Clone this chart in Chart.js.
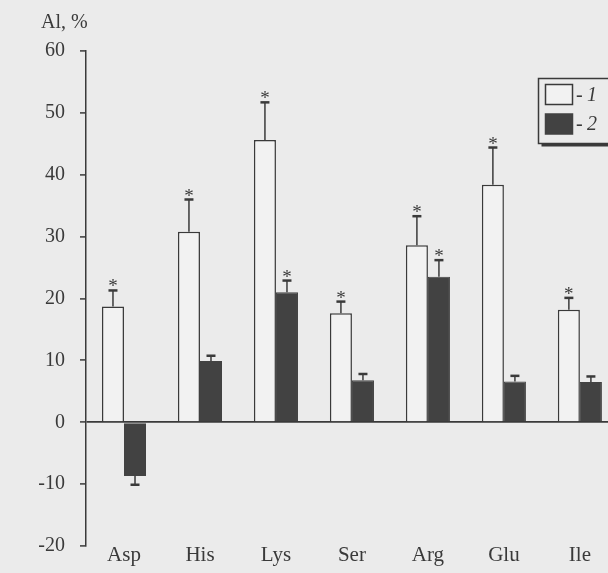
<!DOCTYPE html>
<html>
<head>
<meta charset="utf-8">
<script src="https://cdn.jsdelivr.net/npm/chart.js@4.4.0/dist/chart.umd.min.js"></script>
<style>
  html, body { margin: 0; padding: 0; background: #ebebeb; }
  #wrap { width: 608px; height: 573px; position: relative; }
</style>
</head>
<body>
<div id="wrap"><canvas id="aiChart"></canvas></div>
<script>
// ---------- data ----------
const categories = ["Asp", "His", "Lys", "Ser", "Arg", "Glu", "Ile"];
const seriesLabels = ["1", "2"];
const values1 = [18.7, 30.8, 45.6, 17.6, 28.6, 38.4, 18.2];
const errors1 = [2.6, 5.2, 6.1, 1.9, 4.7, 6.0, 1.9];
const stars1 = [true, true, true, true, true, true, true];
const values2 = [-8.7, 9.9, 21.0, 6.8, 23.5, 6.6, 6.5];
const errors2 = [1.4, 0.85, 1.9, 1.0, 2.7, 0.9, 0.9];
const stars2 = [false, false, true, false, true, false, false];
const yTicks = [-20, -10, 0, 10, 20, 30, 40, 50, 60];
const yTitle = "Al, %";

const INK = "#3a3a3a";
const FONT = "Liberation Serif";

/* error bars + asterisks */
const errorBars = {
  id: "errorBars",
  afterDatasetsDraw(chart) {
    const ctx = chart.ctx;
    const yScale = chart.scales.y;
    const extra = [[errors1, stars1], [errors2, stars2]];
    chart.data.datasets.forEach((ds, di) => {
      const meta = chart.getDatasetMeta(di);
      meta.data.forEach((bar, i) => {
        const v = ds.data[i].y;
        const e = extra[di][0][i];
        const end = v < 0 ? v - e : v + e;
        const py = yScale.getPixelForValue(end);
        ctx.save();
        ctx.strokeStyle = INK;
        ctx.lineWidth = 1.5;
        ctx.beginPath();
        ctx.moveTo(bar.x, bar.y);
        ctx.lineTo(bar.x, py);
        ctx.stroke();
        ctx.lineWidth = 2.5;
        ctx.beginPath();
        ctx.moveTo(bar.x - 4.5, py);
        ctx.lineTo(bar.x + 4.5, py);
        ctx.stroke();
        if (extra[di][1][i]) {
          ctx.fillStyle = INK;
          ctx.font = `19px "${FONT}"`;
          ctx.textAlign = "center";
          ctx.textBaseline = "alphabetic";
          ctx.fillText("*", bar.x, py + 2);
        }
        ctx.restore();
      });
    });
  },
};

/* axis title top-left */
const axisTitle = {
  id: "axisTitle",
  afterDraw(chart) {
    const ctx = chart.ctx;
    ctx.save();
    ctx.fillStyle = INK;
    ctx.font = `20px "${FONT}"`;
    ctx.textAlign = "left";
    ctx.textBaseline = "alphabetic";
    ctx.fillText(yTitle, 41, 28);
    ctx.restore();
  },
};

/* boxed legend, right edge cut off like the scan */
const legendBox = {
  id: "legendBox",
  afterDraw(chart) {
    const ctx = chart.ctx;
    const x0 = 538.5, y0 = 78.5, w = 80, h = 65;
    ctx.save();
    ctx.fillStyle = INK;
    ctx.fillRect(x0 + 3, y0 + h, w, 3);
    ctx.fillStyle = "#ebebeb";
    ctx.fillRect(x0, y0, w, h);
    ctx.strokeStyle = INK;
    ctx.lineWidth = 1.5;
    ctx.strokeRect(x0, y0, w, h);
    chart.data.datasets.forEach((ds, i) => {
      const sy = 84.5 + i * 29.5;
      ctx.fillStyle = ds.backgroundColor;
      ctx.fillRect(545.5, sy, 27, 20);
      ctx.strokeStyle = ds.borderColor;
      ctx.lineWidth = 1.5;
      ctx.strokeRect(545.5, sy, 27, 20);
      ctx.fillStyle = INK;
      ctx.textBaseline = "middle";
      ctx.textAlign = "left";
      ctx.font = `20px "${FONT}"`;
      ctx.fillText("-", 576, sy + 11);
      ctx.font = `italic 20px "${FONT}"`;
      ctx.fillText(ds.label, 587, sy + 11);
    });
    ctx.restore();
  },
};

const ctx = document.getElementById("aiChart").getContext("2d");
new Chart(ctx, {
  type: "bar",
  data: {
    datasets: [
      {
        label: seriesLabels[0],
        data: values1.map((v, i) => ({ x: i, y: v })),
        backgroundColor: "#f2f2f2",
        borderColor: INK,
        borderWidth: 1.5,
      },
      {
        label: seriesLabels[1],
        data: values2.map((v, i) => ({ x: i, y: v })),
        backgroundColor: "#424242",
        borderColor: "#424242",
        borderWidth: 1,
      },
    ],
  },
  options: {
    responsive: true,
    maintainAspectRatio: false,
    animation: false,
    categoryPercentage: 0.58,
    barPercentage: 1,
    layout: { padding: { top: 51, left: 0, right: 0, bottom: 0 } },
    plugins: { legend: { display: false }, tooltip: { enabled: false } },
    scales: {
      x: {
        type: "linear",
        offset: false,
        min: -0.5,
        max: 6.37,
        afterBuildTicks: s => { s.ticks = categories.map((_, i) => ({ value: i })); },
        afterFit: s => { s.height = 21; },
        grid: { display: false, drawTicks: false },
        border: { display: false },
        ticks: {
          callback: v => categories[v],
          color: INK,
          font: { family: FONT, size: 21, lineHeight: 1 },
          padding: -1,
          maxRotation: 0,
          autoSkip: false,
        },
      },
      y: {
        min: -20,
        max: 60,
        afterBuildTicks: s => { s.ticks = yTicks.map(v => ({ value: v })); },
        afterFit: s => { s.width = 86; },
        border: { display: true, color: INK, width: 1.5 },
        grid: {
          color: c => (c.tick && c.tick.value === 0 ? INK : "rgba(0,0,0,0)"),
          lineWidth: 1.8,
          tickColor: INK,
          tickLength: 6,
          tickWidth: 1.5,
        },
        ticks: { color: INK, font: { family: FONT, size: 20 }, padding: 15 },
      },
    },
  },
  plugins: [errorBars, axisTitle, legendBox],
});
</script>
</body>
</html>
